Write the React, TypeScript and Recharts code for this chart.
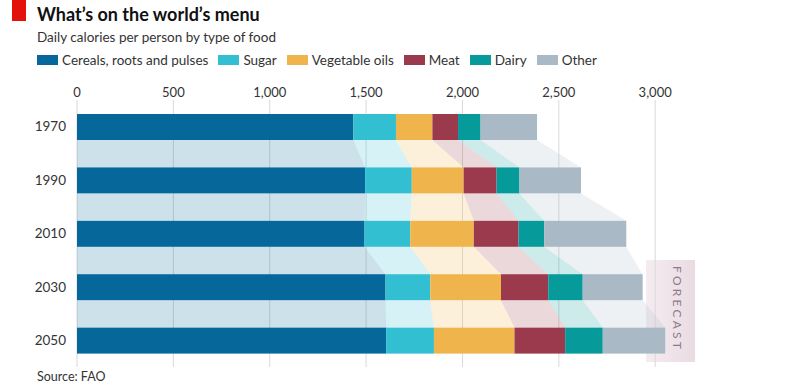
import React from 'react';
import { BarChart, Bar, XAxis, YAxis, CartesianGrid } from 'recharts';

const years = ['1970', '1990', '2010', '2030', '2050'];
const cereals = [1434, 1495, 1492, 1601, 1604];
const sugar = [221, 242, 237, 232, 248];
const vegOils = [189, 269, 330, 367, 418];
const meat = [133, 171, 232, 245, 263];
const dairy = [117, 119, 133, 179, 195];
const other = [293, 319, 426, 311, 324];
const xTicks = [0, 500, 1000, 1500, 2000, 2500, 3000];
const X_MAX = 3300;

const SERIES = [
  { key: 'cereals', name: 'Cereals, roots and pulses', values: cereals, color: '#05679a' },
  { key: 'sugar', name: 'Sugar', values: sugar, color: '#32bfd2' },
  { key: 'vegOils', name: 'Vegetable oils', values: vegOils, color: '#efb44c' },
  { key: 'meat', name: 'Meat', values: meat, color: '#9b3a4d' },
  { key: 'dairy', name: 'Dairy', values: dairy, color: '#069a9b' },
  { key: 'other', name: 'Other', values: other, color: '#a9b9c6' },
];

const data = years.map((year, i) => {
  const row: Record<string, any> = { year };
  SERIES.forEach(s => { row[s.key] = s.values[i]; });
  return row;
});

const W = 800;
const H = 387;
const MARGIN = { top: 80, right: 87, bottom: 20, left: 0 };
const X_AXIS_H = 20;
const Y_AXIS_W = 77;
const BAND = (H - MARGIN.top - MARGIN.bottom - X_AXIS_H) / years.length;
const FONT = 'Lato, "Open Sans", sans-serif';

const startOf = (k: number, i: number) => {
  let s = 0;
  for (let j = 0; j < k; j++) s += SERIES[j].values[i];
  return s;
};

// gridlines only at the labelled ticks (not at the domain end)
const gridX = (props: any) => {
  const scale = props?.xAxis?.scale;
  if (typeof scale === 'function') return xTicks.map(t => scale(t));
  const left = MARGIN.left + Y_AXIS_W;
  const plotW = W - left - MARGIN.right;
  return xTicks.map(t => left + (t / X_MAX) * plotW);
};

// bar + pale connector down to the same segment of the next year
const makeShape = (k: number) => (props: any) => {
  const { x, y, width, height, index } = props;
  const s = SERIES[k];
  const v = s.values[index];
  const ppu = v ? width / v : 0;
  const x0 = x - startOf(k, index) * ppu;
  let link = null;
  if (index < years.length - 1 && ppu) {
    const a1 = x0 + startOf(k, index) * ppu;
    const b1 = a1 + v * ppu;
    const a2 = x0 + startOf(k, index + 1) * ppu;
    const b2 = a2 + s.values[index + 1] * ppu;
    const yTop = y + height;
    const yBot = y + BAND;
    link = (
      <polygon
        points={`${a1},${yTop} ${b1},${yTop} ${b2},${yBot} ${a2},${yBot}`}
        fill={s.color}
        fillOpacity={0.2}
      />
    );
  }
  return (
    <g>
      {link}
      <rect x={x} y={y} width={width} height={height} fill={s.color} />
    </g>
  );
};

export default function App() {
  return (
    <div style={{ position: 'fixed', top: 0, left: 0, width: W, height: H, background: '#fff', fontFamily: FONT, color: '#222' }}>
      <div style={{ position: 'absolute', left: 12, top: 0, width: 14, height: 21, background: '#e3120b' }} />
      <div style={{ position: 'absolute', left: 37, top: 3, fontSize: 18, fontWeight: 700, color: '#111' }}>
        What’s on the world’s menu
      </div>
      <div style={{ position: 'absolute', left: 37, top: 29, fontSize: 13.5, color: '#333' }}>
        Daily calories per person by type of food
      </div>
      <div style={{ position: 'absolute', left: 37, top: 52, display: 'flex', gap: 10, fontSize: 13.5, color: '#333' }}>
        {SERIES.map(s => (
          <div key={s.key} style={{ display: 'flex', alignItems: 'center', gap: 4 }}>
            <span style={{ display: 'inline-block', width: 21, height: 10, background: s.color }} />
            <span>{s.name}</span>
          </div>
        ))}
      </div>

      <div
        style={{
          position: 'absolute', left: 646, top: 260, width: 49, height: 102,
          background: 'linear-gradient(to right, #f4ecf0, #eadbe3)',
        }}
      />
      <div
        style={{
          position: 'absolute', left: 677, top: 309, transform: 'translate(-50%, -50%) rotate(90deg)',
          fontSize: 12, letterSpacing: 3.2, color: '#8c7b8c', whiteSpace: 'nowrap',
        }}
      >
        FORECAST
      </div>

      <div style={{ position: 'absolute', left: 0, top: 0 }}>
        <BarChart width={W} height={H} data={data} layout="vertical" margin={MARGIN} barSize={26}>
          <CartesianGrid horizontal={false} stroke="#d9d9d9" verticalCoordinatesGenerator={gridX} />
          <XAxis
            type="number"
            orientation="top"
            domain={[0, X_MAX]}
            ticks={xTicks}
            height={X_AXIS_H}
            axisLine={false}
            tickLine={false}
            tickSize={0}
            tickMargin={3}
            tickFormatter={(v: number) => v.toLocaleString('en-US')}
            tick={{ fontSize: 13, fill: '#333', fontFamily: FONT }}
          />
          <YAxis
            type="category"
            dataKey="year"
            width={Y_AXIS_W}
            axisLine={false}
            tickLine={false}
            tickSize={0}
            tickMargin={11}
            tick={{ fontSize: 13.5, fill: '#333', fontFamily: FONT }}
          />
          {SERIES.map((s, k) => (
            <Bar
              key={s.key}
              dataKey={s.key}
              name={s.name}
              stackId="a"
              fill={s.color}
              isAnimationActive={false}
              shape={makeShape(k)}
            />
          ))}
        </BarChart>
      </div>

      <div style={{ position: 'absolute', left: 37, top: 369, fontSize: 12.5, color: '#333' }}>
        Source: FAO
      </div>
    </div>
  );
}
